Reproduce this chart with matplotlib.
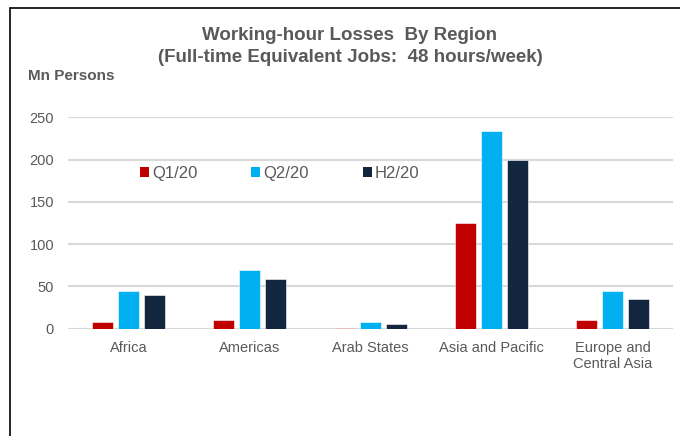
import matplotlib
matplotlib.use("Agg")
import matplotlib.pyplot as plt
from matplotlib.patches import Patch, Rectangle
import numpy as np

plt.rcParams['font.family'] = ['Liberation Sans', 'DejaVu Sans']

categories = ["Africa", "Americas", "Arab States", "Asia and Pacific", "Europe and\nCentral Asia"]
series_names = ["Q1/20", "Q2/20", "H2/20"]
q1_20 = [8, 10, 1, 125, 10]
q2_20 = [45, 70, 8, 234, 45]
h2_20 = [40, 59, 6, 199, 35]
series_values = [q1_20, q2_20, h2_20]
colors = ["#C00000", "#00B0F0", "#12263F"]
yticks = [0, 50, 100, 150, 200, 250]

W, H = 680, 436
fig = plt.figure(figsize=(W / 100, H / 100), dpi=100)
fig.patch.set_facecolor("white")

# outer frame
fig.patches.append(Rectangle((10 / W, -0.1), 1.2, (H - 8) / H + 0.1, transform=fig.transFigure,
                             fill=False, edgecolor="black", linewidth=1.2, zorder=0))

ax = fig.add_axes([68 / W, (H - 328.7) / H, (673 - 68) / W, (328.7 - 117.3) / H])
x = np.arange(len(categories))
offsets = [-0.215, 0.0, 0.215]
for vals, off, c, name in zip(series_values, offsets, colors, series_names):
    ax.bar(x + off, vals, width=0.17, color=c, edgecolor="white", linewidth=0.4, zorder=3, label=name)

ax.set_xlim(-0.5, len(categories) - 0.5)
ax.set_ylim(0, 250)
ax.set_yticks(yticks)
ax.set_xticks(x)
ax.set_xticklabels(categories)
for s in ax.spines.values():
    s.set_visible(False)
ax.yaxis.grid(True, color="#d9d9d9", linewidth=1.5, zorder=0)
ax.set_axisbelow(True)
ax.tick_params(axis="both", length=0, labelsize=10.5, labelcolor="#595959")
ax.tick_params(axis="y", pad=10)
ax.tick_params(axis="x", pad=9)

handles = [Patch(facecolor=c, edgecolor="none") for c in colors]
leg = fig.legend(handles, series_names, loc="center left", bbox_to_anchor=(140 / W, (H - 173.5) / H),
                 ncol=3, frameon=False, fontsize=12, borderpad=0, handlelength=0.55, handleheight=0.55,
                 handletextpad=0.2, columnspacing=3.2, borderaxespad=0)
for t in leg.get_texts():
    t.set_color("#595959")

fig.text(350 / W, (H - 35) / H, "Working-hour Losses  By Region", ha="center", va="center",
         fontsize=13.5, fontweight="bold", color="#595959")
fig.text(350 / W, (H - 57.5) / H, "(Full-time Equivalent Jobs:  48 hours/week)", ha="center", va="center",
         fontsize=13.5, fontweight="bold", color="#595959")
fig.text(28 / W, (H - 76) / H, "Mn Persons", ha="left", va="center",
         fontsize=11, fontweight="bold", color="#595959")

fig.savefig("out.png", dpi=100, facecolor=fig.get_facecolor())
